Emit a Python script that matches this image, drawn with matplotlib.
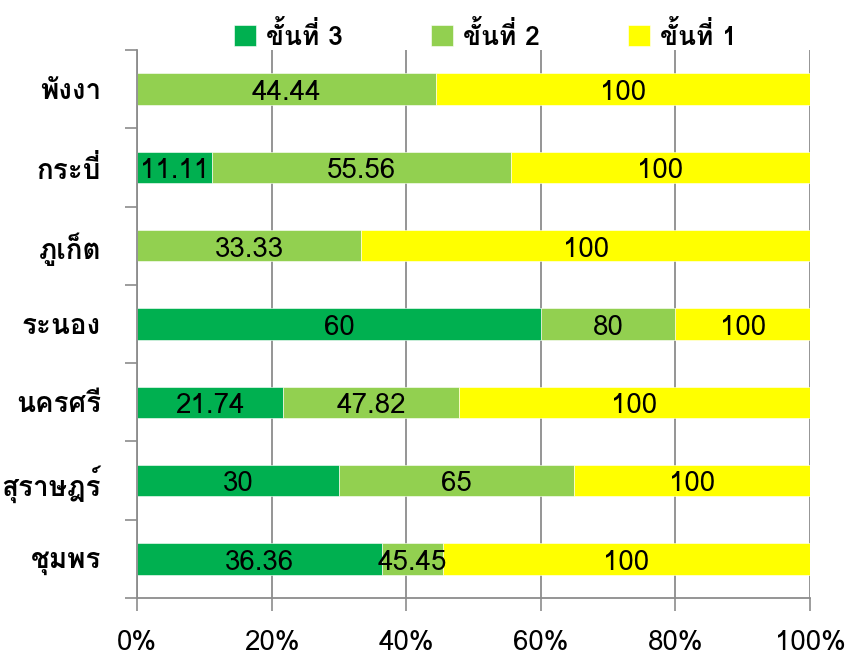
import matplotlib
matplotlib.use("Agg")
import matplotlib.pyplot as plt
import numpy as np

plt.rcParams['font.family'] = ['Loma', 'DejaVu Sans']

provinces = ['พังงา', 'กระบี่', 'ภูเก็ต', 'ระนอง', 'นครศรี', 'สุราษฎร์', 'ชุมพร']
stage_names = ['ขั้นที่ 3', 'ขั้นที่ 2', 'ขั้นที่ 1']
# cumulative percent reached at the end of each stage
stage3 = [0, 11.11, 0, 60, 21.74, 30, 36.36]
stage2 = [44.44, 55.56, 33.33, 80, 47.82, 65, 45.45]
stage1 = [100, 100, 100, 100, 100, 100, 100]
colors = ['#00B050', '#92D050', '#FFFF00']

fig = plt.figure(figsize=(8.5, 6.61), dpi=100)
ax = fig.add_axes([137/850, 1-598/661, 673/850, 548/661])

y = np.arange(len(provinces))
prev = np.zeros(len(provinces))
for name, cum, c in zip(stage_names, [stage3, stage2, stage1], colors):
    cum = np.array(cum, dtype=float)
    width = cum - prev
    ax.barh(y, width, left=prev, height=0.4, color=c, label=name,
            edgecolor='white', linewidth=0.4, zorder=2)
    for yi, l, w, v in zip(y, prev, width, cum):
        if w > 0:
            ax.text(l + w/2, yi + 0.05, f'{v:g}', ha='center', va='center',
                    fontsize=20, color='black', zorder=3)
    prev = cum

ax.set_xlim(0, 100)
ax.set_ylim(len(provinces) - 0.5, -0.5)

ax.set_xticks(np.arange(0, 101, 20))
ax.set_xticklabels([f'{v}%' for v in range(0, 101, 20)], fontsize=20)
ax.tick_params(axis='x', direction='out', length=9, width=1.2,
               color='#8c8c8c', pad=14)

# category labels sit between the boundary ticks
ax.set_yticks(np.arange(len(provinces) + 1) - 0.5)
ax.set_yticklabels([])
ax.set_yticks(y, minor=True)
ax.set_yticklabels(provinces, minor=True, fontsize=20, fontweight='bold')
ax.tick_params(axis='y', which='major', direction='out', length=9,
               width=1.2, color='#8c8c8c')
ax.tick_params(axis='y', which='minor', length=0, pad=26)

ax.grid(axis='x', color='#8c8c8c', linewidth=1.3, zorder=0)
ax.set_axisbelow(True)
for s in ['top', 'right']:
    ax.spines[s].set_visible(False)
for s in ['left', 'bottom']:
    ax.spines[s].set_color('#8c8c8c')
    ax.spines[s].set_linewidth(1.3)

fig.legend(loc='center', bbox_to_anchor=(0.571, 0.947), ncol=3,
           frameon=False, prop={'size': 19, 'weight': 'bold'},
           handlelength=0.83, handleheight=0.83, handletextpad=0.38,
           columnspacing=3.33, borderaxespad=0)

fig.savefig('out.png', dpi=100)
